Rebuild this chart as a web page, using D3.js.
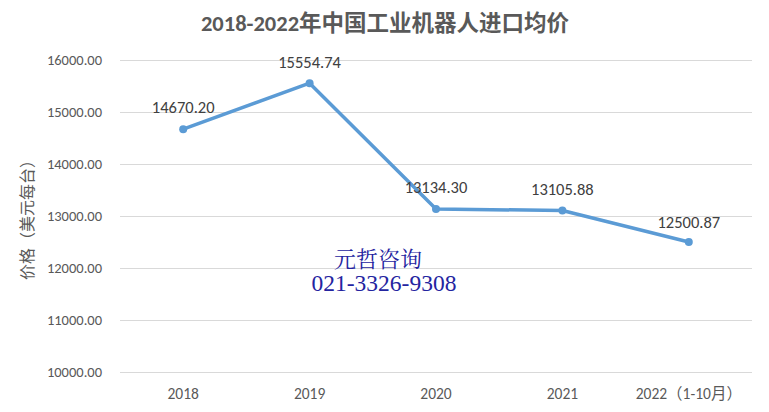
<!DOCTYPE html>
<html><head><meta charset="utf-8">
<script src="https://cdn.jsdelivr.net/npm/d3@7"></script>
<style>body{margin:0;background:#fff}svg{display:block}</style>
</head><body>
<svg id="c" width="769" height="412"></svg>
<script>
const categories = ["2018","2019","2020","2021","2022（1-10月）"];
const values = [14670.20, 15554.74, 13134.30, 13105.88, 12500.87];
const yTicks = [10000,11000,12000,13000,14000,15000,16000];
const title = "2018-2022年中国工业机器人进口均价";
const yTitle = "价格（美元每台）";

const W=769,H=412;
const m={l:120,r:17,t:60,b:40};
const svg=d3.select("#c");
const font="Carlito, 'Liberation Sans', 'Noto Sans CJK SC', sans-serif";
const x=d3.scaleBand().domain(categories).range([m.l,W-m.r]);
const y=d3.scaleLinear().domain([10000,16000]).range([372,60]);

svg.append("g").selectAll("line").data(yTicks).join("line")
 .attr("x1",m.l).attr("x2",W-m.r).attr("y1",d=>y(d)).attr("y2",d=>y(d))
 .attr("stroke","#d9d9d9").attr("stroke-width",1).attr("shape-rendering","crispEdges");

svg.append("g").selectAll("text").data(yTicks).join("text")
 .attr("x",102).attr("y",d=>y(d)).attr("dy","0.35em").attr("text-anchor","end")
 .attr("font-family",font).attr("font-size",14.5).attr("fill","#595959")
 .text(d=>d3.format(".2f")(d));

svg.append("g").selectAll("text").data(categories).join("text")
 .attr("x",d=>x(d)+x.bandwidth()/2).attr("y",399)
 .attr("text-anchor","middle").attr("font-family",font).attr("font-size",15.5).attr("fill","#595959")
 .text(d=>d);

svg.append("text").attr("transform","translate(33,216) rotate(-90)")
 .attr("text-anchor","middle").attr("font-family",font).attr("font-size",16).attr("fill","#595959")
 .text(yTitle);

svg.append("text").attr("x",385).attr("y",31).attr("text-anchor","middle")
 .attr("font-family",font).attr("font-size",22.5).attr("font-weight","bold").attr("fill","#595959")
 .text(title);

// watermark
svg.append("text").attr("x",378).attr("y",267).attr("text-anchor","middle")
 .attr("font-family","'Noto Serif CJK SC','Liberation Serif',serif").attr("font-size",22).attr("fill","#2424a0")
 .text("元哲咨询");
svg.append("text").attr("x",384).attr("y",291).attr("text-anchor","middle")
 .attr("font-family","'Liberation Serif',serif").attr("font-size",23.5).attr("fill","#2424a0")
 .text("021-3326-9308");

const line=d3.line().x((d,i)=>x(categories[i])+x.bandwidth()/2).y(d=>y(d));
svg.append("path").datum(values).attr("d",line).attr("fill","none")
 .attr("stroke","#5b9bd5").attr("stroke-width",3.5).attr("stroke-linejoin","round");
svg.append("g").selectAll("circle").data(values).join("circle")
 .attr("cx",(d,i)=>x(categories[i])+x.bandwidth()/2).attr("cy",d=>y(d)).attr("r",4)
 .attr("fill","#5b9bd5");

const labelOffsets=[-22,-21,-22,-21,-20];
svg.append("g").selectAll("text").data(values).join("text")
 .attr("x",(d,i)=>x(categories[i])+x.bandwidth()/2)
 .attr("y",(d,i)=>y(d)+labelOffsets[i]).attr("dy","0.35em").attr("text-anchor","middle")
 .attr("font-family",font).attr("font-size",16.5).attr("fill","#404040")
 .text(d=>d3.format(".2f")(d));
</script>
</body></html>
